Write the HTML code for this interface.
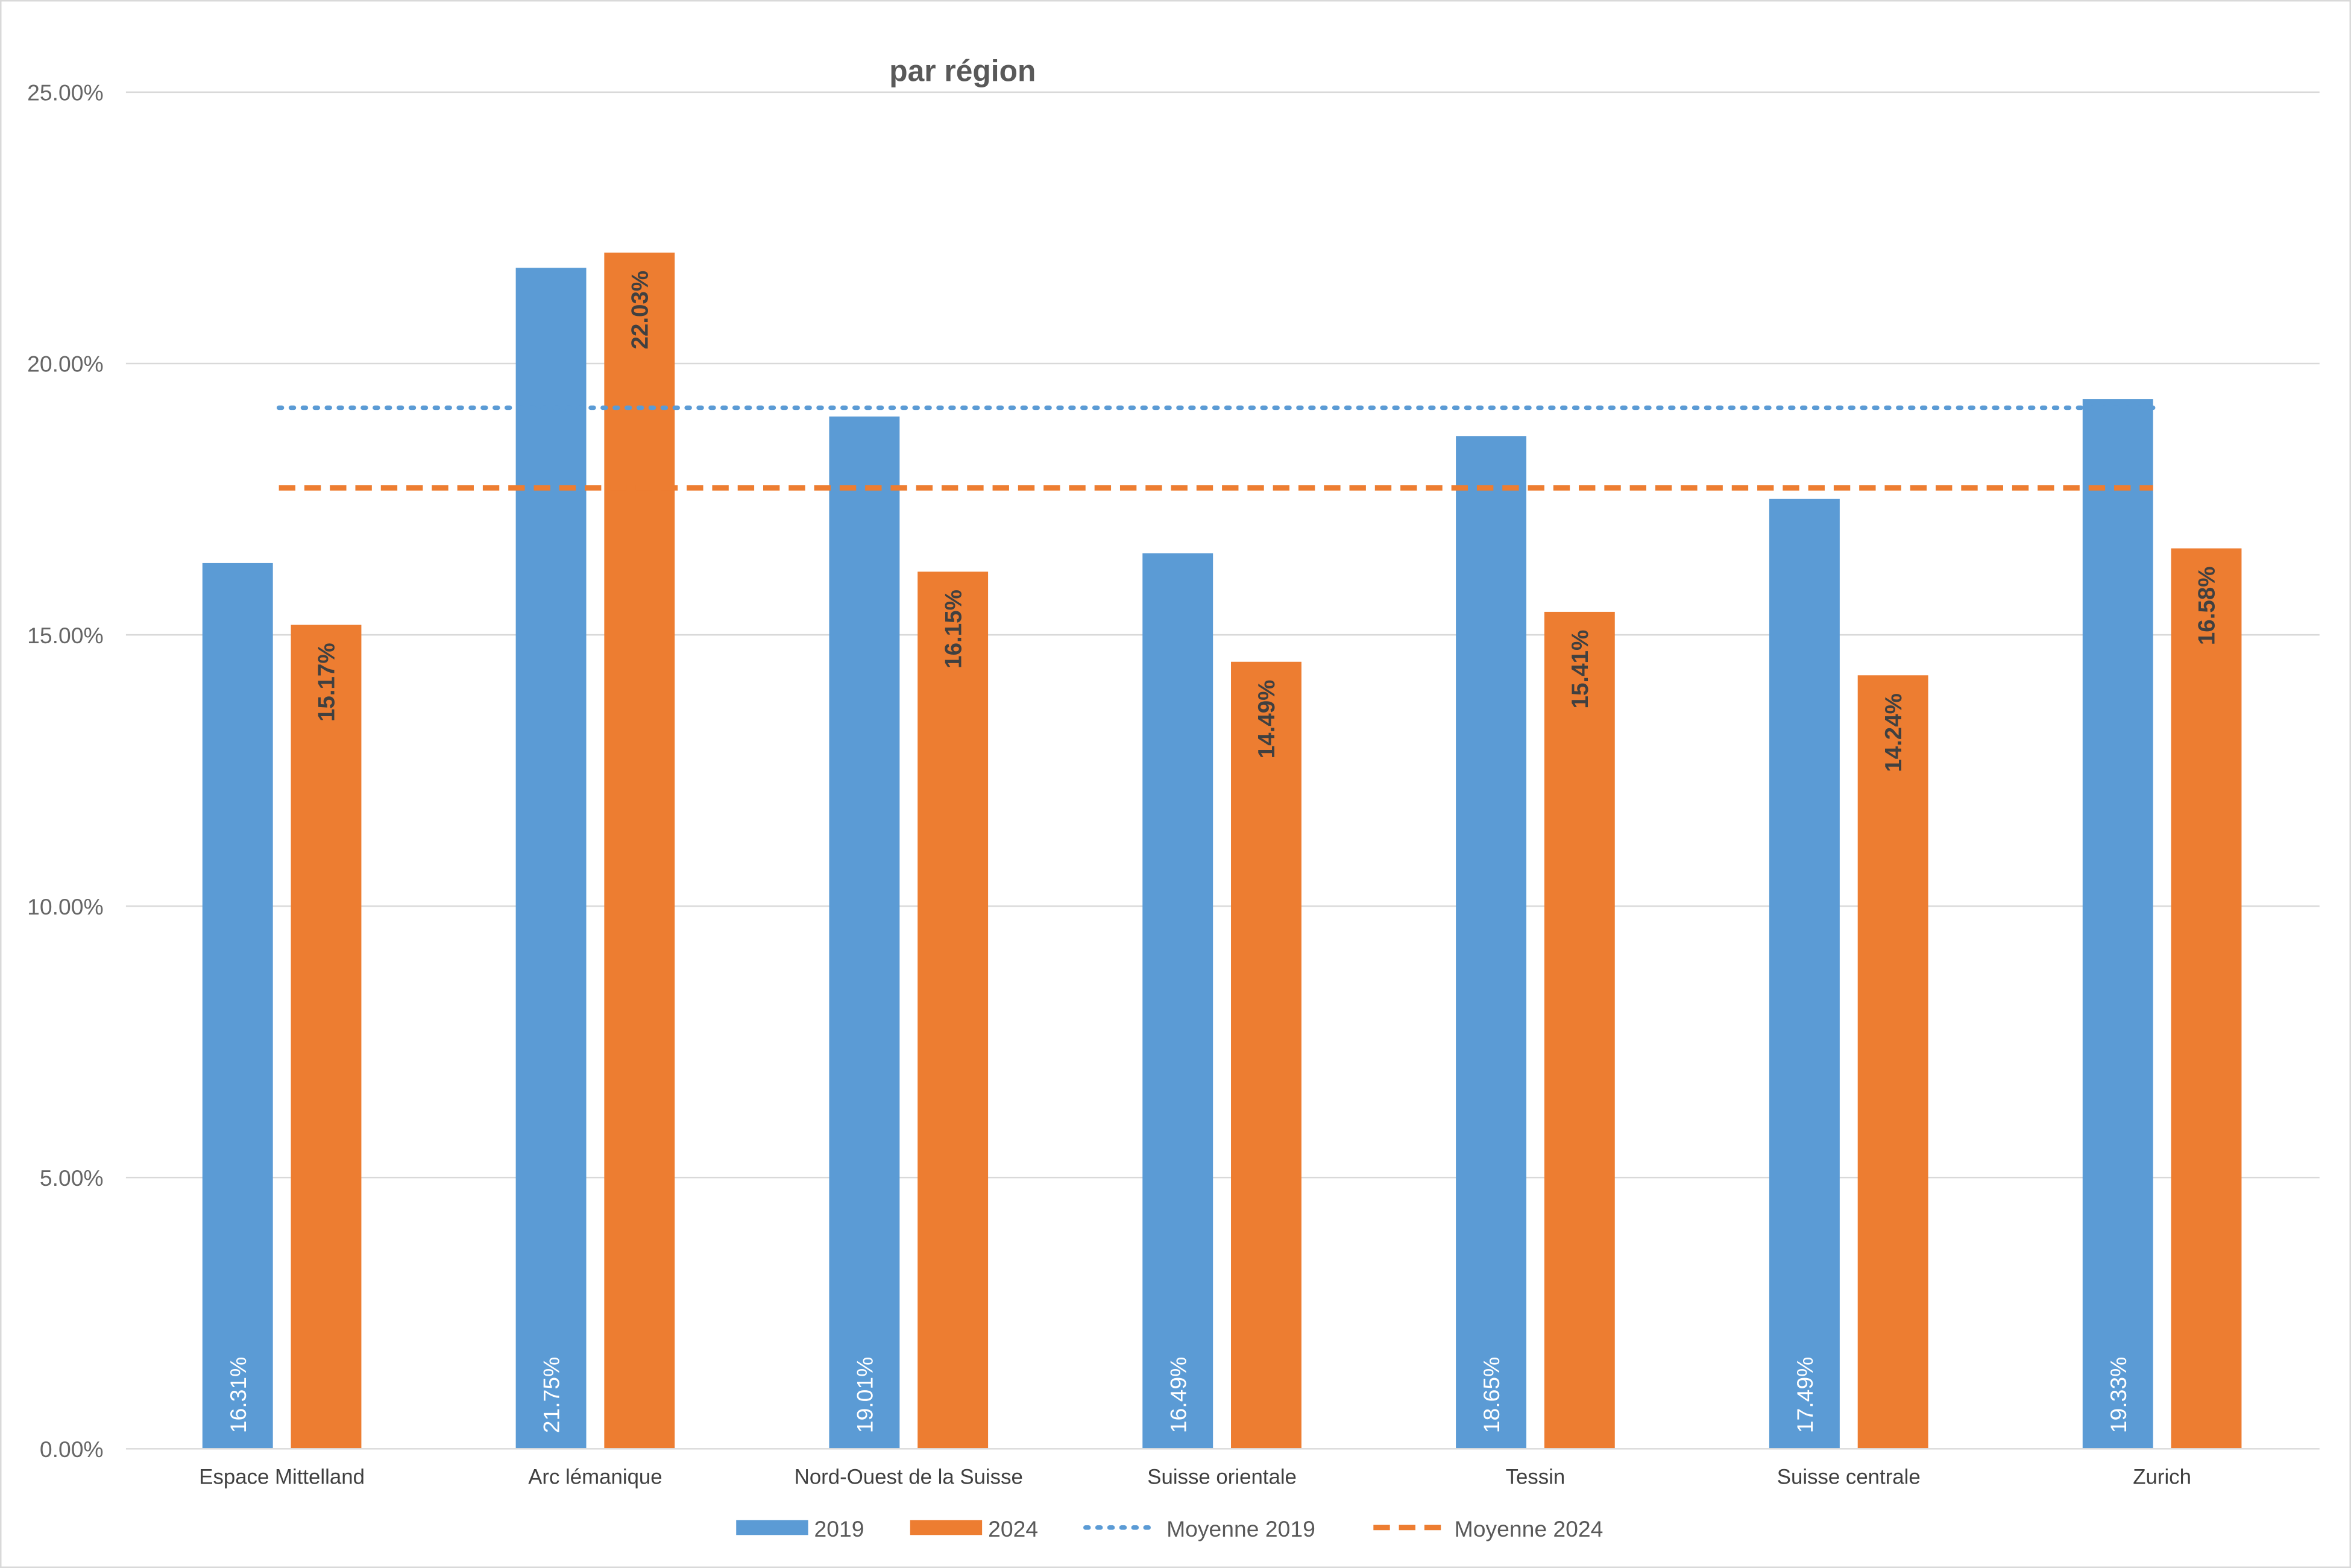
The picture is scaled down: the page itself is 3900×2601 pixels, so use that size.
<!DOCTYPE html>
<html><head><meta charset="utf-8"><style>
html,body{margin:0;padding:0;background:#fff}
svg{display:block}
text{font-family:"Liberation Sans",sans-serif}
</style></head><body>
<svg width="3900" height="2601" viewBox="0 0 1568 1046" preserveAspectRatio="none" xmlns="http://www.w3.org/2000/svg">
<rect x="0.5" y="0.5" width="1567" height="1045" fill="#fff" stroke="#d9d9d9"/>
<text x="642" y="54" text-anchor="middle" font-size="20" font-weight="bold" fill="#595959">par région</text>
<g stroke="#d9d9d9" stroke-width="1">
<line x1="84" x2="1547" y1="61.5" y2="61.5"/>
<line x1="84" x2="1547" y1="242.5" y2="242.5"/>
<line x1="84" x2="1547" y1="423.5" y2="423.5"/>
<line x1="84" x2="1547" y1="604.5" y2="604.5"/>
<line x1="84" x2="1547" y1="785.5" y2="785.5"/>
<line x1="84" x2="1547" y1="966.5" y2="966.5"/>
</g>
<g font-size="15" fill="#666" text-anchor="end">
<text x="69" y="67">25.00%</text>
<text x="69" y="248">20.00%</text>
<text x="69" y="429">15.00%</text>
<text x="69" y="610">10.00%</text>
<text x="69" y="791">5.00%</text>
<text x="69" y="972">0.00%</text>
</g>
<g id="bars"></g>
<line x1="186" x2="1436" y1="272" y2="272" stroke="#5b9bd5" stroke-width="3" stroke-dasharray="2,6" stroke-linecap="round"/>
<line x1="186" x2="1436" y1="325.5" y2="325.5" stroke="#ed7d31" stroke-width="3.5" stroke-dasharray="11,6"/>
<g font-size="14" fill="#404040" text-anchor="middle" id="cats"></g>
<rect x="491" y="1014" width="48" height="10" fill="#5b9bd5"/>
<text x="543" y="1025" font-size="15" fill="#595959">2019</text>
<rect x="607" y="1014" width="48" height="10" fill="#ed7d31"/>
<text x="659" y="1025" font-size="15" fill="#595959">2024</text>
<line x1="724" x2="770" y1="1019" y2="1019" stroke="#5b9bd5" stroke-width="3" stroke-dasharray="2,6" stroke-linecap="round"/>
<text x="778" y="1025" font-size="15" fill="#595959">Moyenne 2019</text>
<line x1="916" x2="962" y1="1019" y2="1019" stroke="#ed7d31" stroke-width="3.5" stroke-dasharray="11,6"/>
<text x="970" y="1025" font-size="15" fill="#595959">Moyenne 2024</text>
</svg>
<script>
var b=[16.31,21.75,19.01,16.49,18.65,17.49,19.33],o=[15.17,22.03,16.15,14.49,15.41,14.24,16.58];
var n=["Espace Mittelland","Arc lémanique","Nord-Ouest de la Suisse","Suisse orientale","Tessin","Suisse centrale","Zurich"];
var s="",c="";
for(var i=0;i<7;i++){var cx=188+i*209,yb=966-b[i]*36.2,yo=966-o[i]*36.2;
s+='<rect x="'+(cx-53)+'" y="'+yb+'" width="47" height="'+(966-yb)+'" fill="#5b9bd5"/>';
s+='<rect x="'+(cx+6)+'" y="'+yo+'" width="47" height="'+(966-yo)+'" fill="#ed7d31"/>';
s+='<text transform="translate('+(cx-24)+',956) rotate(-90)" font-size="15" fill="#fff">'+b[i].toFixed(2)+'%</text>';
s+='<text transform="translate('+(cx+35)+','+(yo+12)+') rotate(-90)" font-size="15.5" font-weight="bold" fill="#404040" text-anchor="end">'+o[i].toFixed(2)+'%</text>';
c+='<text x="'+cx+'" y="990">'+n[i]+'</text>';}
document.getElementById("bars").innerHTML=s;document.getElementById("cats").innerHTML=c;
</script>
</body></html>
